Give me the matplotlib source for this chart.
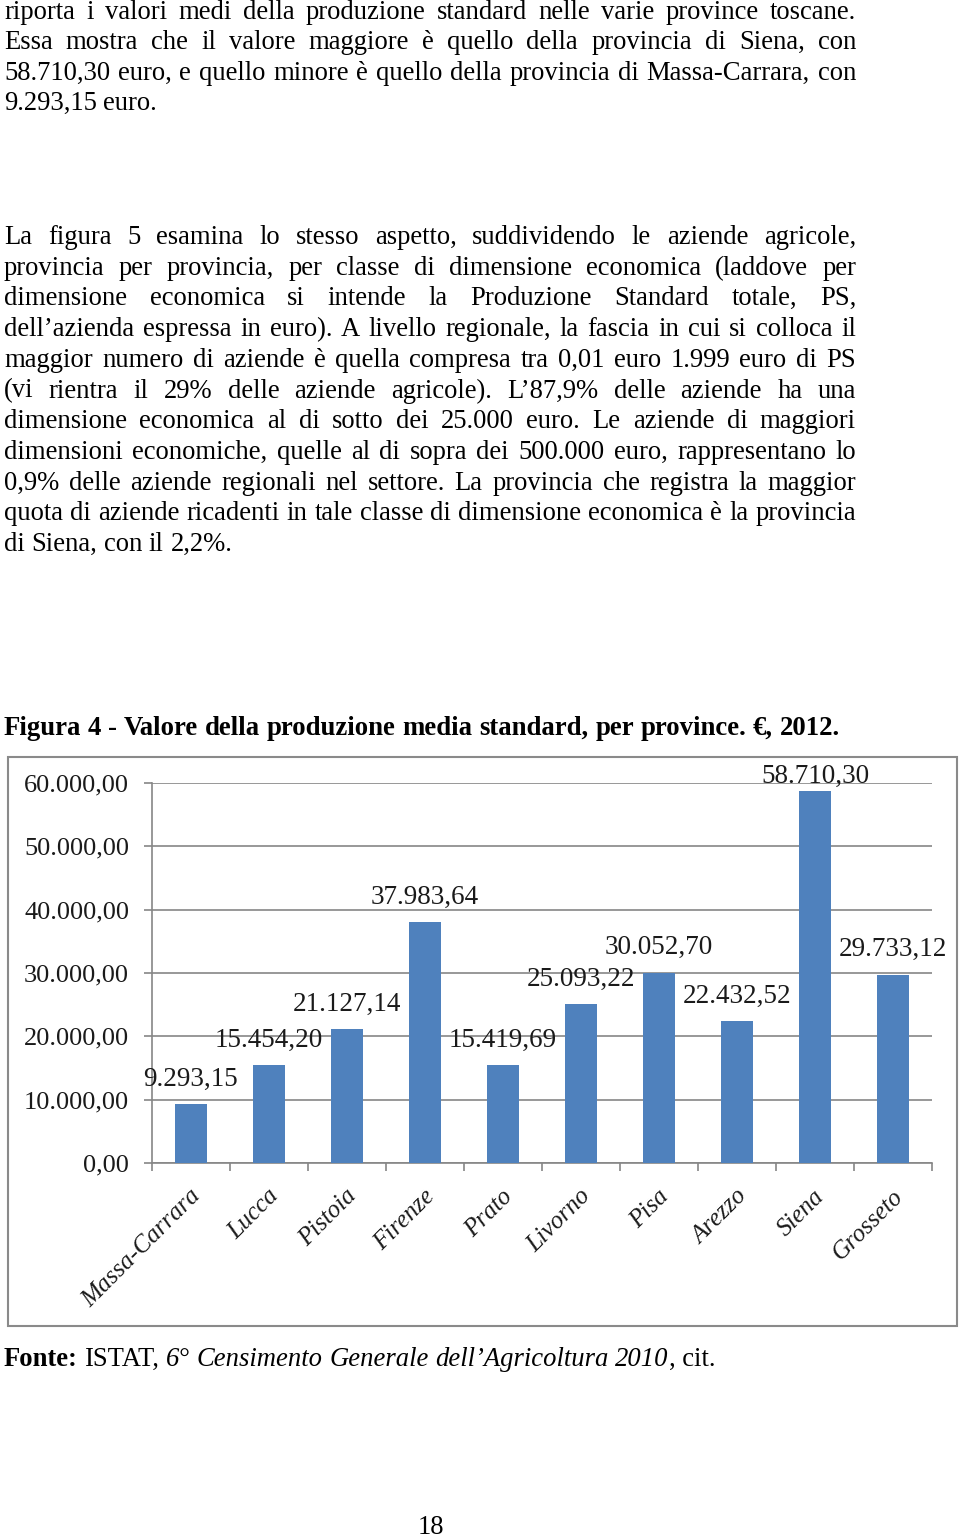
import matplotlib
matplotlib.use('Agg')
import matplotlib.pyplot as plt
import numpy as np
from matplotlib.patches import Rectangle
from matplotlib.transforms import ScaledTranslation

provinces = ['Massa-Carrara', 'Lucca', 'Pistoia', 'Firenze', 'Prato',
             'Livorno', 'Pisa', 'Arezzo', 'Siena', 'Grosseto']
values = [9293.15, 15454.20, 21127.14, 37983.64, 15419.69,
          25093.22, 30052.70, 22432.52, 58710.30, 29733.12]
yticks = [0, 10000, 20000, 30000, 40000, 50000, 60000]

para1 = [
    "riporta i valori medi della produzione standard nelle varie province toscane.",
    "Essa mostra che il valore maggiore è quello della provincia di Siena, con",
    "58.710,30 euro, e quello minore è quello della provincia di Massa-Carrara, con",
    "9.293,15 euro.",
]
para2 = [
    "La figura 5 esamina lo stesso aspetto, suddividendo le aziende agricole,",
    "provincia per provincia, per classe di dimensione economica (laddove per",
    "dimensione economica si intende la Produzione Standard totale, PS,",
    "dell’azienda espressa in euro). A livello regionale, la fascia in cui si colloca il",
    "maggior numero di aziende è quella compresa tra 0,01 euro 1.999 euro di PS",
    "(vi rientra il 29% delle aziende agricole). L’87,9% delle aziende ha una",
    "dimensione economica al di sotto dei 25.000 euro. Le aziende di maggiori",
    "dimensioni economiche, quelle al di sopra dei 500.000 euro, rappresentano lo",
    "0,9% delle aziende regionali nel settore. La provincia che registra la maggior",
    "quota di aziende ricadenti in tale classe di dimensione economica è la provincia",
    "di Siena, con il 2,2%.",
]
caption = "Figura 4 - Valore della produzione media standard, per province. €, 2012."

W, H = 960, 1539
FONT = 'Liberation Serif'
FS = 19.2


def it_fmt(v):
    s = f"{v:,.2f}"
    return s.replace(',', '#').replace('.', ',').replace('#', '.')


fig = plt.figure(figsize=(W / 100, H / 100), dpi=100)
renderer = fig.canvas.get_renderer()


def fx(x):
    return x / W


def fy(y):
    return 1 - y / H


def text_width(t, size=FS, **kw):
    a = fig.text(0, 0, t, fontsize=size, family=FONT, **kw)
    w = a.get_window_extent(renderer).width
    a.remove()
    return w


def place(tokens, y, x0=4, x1=None, size=FS):
    # tokens: (text, props, glue)  glue=True -> no space before
    widths = [text_width(t, size, **kw) for t, kw, g in tokens]
    sp = text_width("a a", size) - text_width("aa", size)
    ngaps = sum(1 for t, kw, g in tokens[1:] if not g)
    if x1 is not None and ngaps > 0:
        gap = (x1 - x0 - sum(widths)) / ngaps
    else:
        gap = sp
    x = x0
    for i, (t, kw, g) in enumerate(tokens):
        if i > 0 and not g:
            x += gap
        fig.text(fx(x), fy(y), t, fontsize=size, family=FONT, va='baseline',
                 ha='left', **kw)
        x += widths[i]


def paragraph(lines, y0, dy):
    for i, line in enumerate(lines):
        toks = [(w, {}, False) for w in line.split()]
        last = i == len(lines) - 1
        place(toks, y0 + i * dy, x1=None if last else 856)


paragraph(para1, 19, 30.3)
paragraph(para2, 244, 30.7)

place([(w, {'weight': 'bold'}, False) for w in caption.split()], 735, size=19.3)

place([("Fonte:", {'weight': 'bold'}, False),
       ("ISTAT,", {}, False),
       ("6°", {'style': 'italic'}, False),
       ("Censimento", {'style': 'italic'}, False),
       ("Generale", {'style': 'italic'}, False),
       ("dell’Agricoltura", {'style': 'italic'}, False),
       ("2010", {'style': 'italic'}, False),
       (", cit.", {}, True)], 1366)

fig.text(fx(431), fy(1534), "18", fontsize=FS, family=FONT, ha='center',
         va='baseline')

# chart frame
fig.patches.append(Rectangle((fx(8), fy(1326)), fx(957) - fx(8),
                             fy(757) - fy(1326), transform=fig.transFigure,
                             fill=False, edgecolor='#8a8a8a', lw=1.5))

ax = fig.add_axes([fx(152), fy(1163), fx(932) - fx(152), fy(783) - fy(1163)])
x = np.arange(len(provinces))
ax.bar(x, values, width=0.41, color='#4F81BD', zorder=3)
# labels sit ~25px above the bar, kept inside the chart frame
for xi, v in zip(x, values):
    ax.text(xi, min(v + 3950, 61100), it_fmt(v), ha='center', va='center',
            fontsize=19.5, family=FONT, color='#1a1a1a', clip_on=False)

ax.set_xlim(-0.5, len(provinces) - 0.5)
ax.set_ylim(0, 60000)
ax.set_yticks(yticks)
ax.set_yticklabels([it_fmt(v) for v in yticks], fontsize=19, family=FONT,
                   color='#1a1a1a')
ax.set_xticks(x)
ax.set_xticklabels(provinces, rotation=45, ha='right', fontsize=18,
                   family=FONT, style='italic', color='#1a1a1a')
ax.set_xticks(np.arange(-0.5, len(provinces), 1), minor=True)
ax.tick_params(axis='x', which='major', length=0, pad=16)
ax.tick_params(axis='x', which='minor', length=6, color='#868686', width=1.2)
ax.tick_params(axis='y', length=6, color='#868686', width=1.2, pad=10.5)
shift = ScaledTranslation(14 / 100, 0, fig.dpi_scale_trans)
for lbl in ax.get_xticklabels():
    lbl.set_transform(lbl.get_transform() + shift)
ax.yaxis.grid(True, color='#868686', lw=1.2)
ax.set_axisbelow(True)
for s in ['top', 'right']:
    ax.spines[s].set_visible(False)
for s in ['left', 'bottom']:
    ax.spines[s].set_color('#868686')
    ax.spines[s].set_linewidth(1.2)

fig.savefig('out.png', dpi=100)
